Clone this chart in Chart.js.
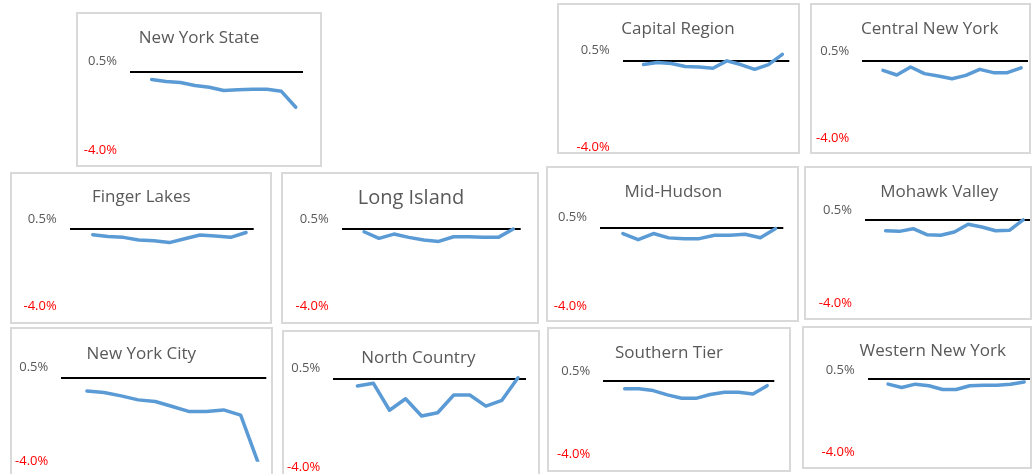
<!DOCTYPE html>
<html><head><meta charset="utf-8">
<script src="https://cdn.jsdelivr.net/npm/chart.js@4.4.1/dist/chart.umd.min.js"></script>
<style>
html,body{margin:0;padding:0;background:#fff;width:1032px;height:474px;overflow:hidden;position:relative}
.box{position:absolute;border:2px solid #d9d9d9;box-sizing:border-box;pointer-events:none}
canvas{position:absolute}
</style></head><body>
<script>
// ---- data ----
const categories = ['2009','2010','2011','2012','2013','2014','2015','2016','2017','2018','2019','2020'];
const newYorkState    = [null, -0.41, -0.51, -0.56, -0.71, -0.80, -0.97, -0.93, -0.90, -0.90, -1.01, -1.82];
const capitalRegion   = [null, -0.17, -0.08, -0.12, -0.26, -0.28, -0.34,  0.00, -0.17, -0.39, -0.17,  0.30];
const centralNewYork  = [null, -0.48, -0.72, -0.31, -0.65, -0.77, -0.91, -0.74, -0.43, -0.60, -0.60, -0.35];
const fingerLakes     = [null, -0.29, -0.38, -0.43, -0.57, -0.60, -0.70, -0.50, -0.31, -0.36, -0.43, -0.18];
const longIsland      = [null, -0.14, -0.48, -0.26, -0.43, -0.57, -0.64, -0.40, -0.40, -0.43, -0.43,  0.00];
const midHudson       = [null, -0.30, -0.61, -0.30, -0.52, -0.56, -0.56, -0.39, -0.39, -0.34, -0.51, -0.05];
const mohawkValley    = [null, -0.50, -0.53, -0.40, -0.69, -0.72, -0.56, -0.19, -0.32, -0.50, -0.48,  0.02];
const newYorkCity     = [null, -0.61, -0.69, -0.85, -1.04, -1.12, -1.36, -1.60, -1.60, -1.52, -1.77, -4.00];
const northCountry    = [null, -0.30, -0.18, -1.40, -0.88, -1.66, -1.51, -0.71, -0.71, -1.21, -0.95,  0.07];
const southernTier    = [null, -0.43, -0.43, -0.53, -0.76, -0.95, -0.95, -0.74, -0.62, -0.62, -0.71, -0.26];
const westernNewYork  = [null, -0.27, -0.45, -0.27, -0.36, -0.56, -0.56, -0.36, -0.33, -0.33, -0.27, -0.15];
const tickValues = [-4.0, 0, 0.5];
const tickLabels = ['-4.0%', '', '0.5%'];

// ---- layout (page coordinates) ----
const panels = [
 {name:'New York State',   data:newYorkState,   box:[76,12,246,155],  title:[199,38,17],    plot:[130,303,61.7,150]},
 {name:'Capital Region',   data:capitalRegion,  box:[557,3,243,151],  title:[678,28.7,17],  plot:[622.7,789.3,50,147.7]},
 {name:'Central New York', data:centralNewYork, box:[810,3,221,151],  title:[929.7,28.7,17],plot:[862.3,1028,51.3,138.7]},
 {name:'Finger Lakes',     data:fingerLakes,    box:[10,172,262,152], title:[141.3,196.7,17],plot:[69.7,253.7,219.3,306.7]},
 {name:'Long Island',      data:longIsland,     box:[281,172,258,152],title:[411,198.3,20], plot:[341.7,520.7,219.3,306.7]},
 {name:'Mid-Hudson',       data:midHudson,      box:[546,166,253,156],title:[673.3,191.7,17],plot:[600,783.3,217.7,306.7]},
 {name:'Mohawk Valley',    data:mohawkValley,   box:[804,166,228,154],title:[939.3,191.7,17],plot:[865,1030,210,303.3]},
 {name:'New York City',    data:newYorkCity,    box:[10,327,263,152], title:[141.3,354.3,17],plot:[61.3,266.3,367.7,461.7]},
 {name:'North Country',    data:northCountry,   box:[282,330,258,152],title:[418.3,357.7,17],plot:[333.3,526,368.3,467.7]},
 {name:'Southern Tier',    data:southernTier,   box:[547,327,244,145],title:[669,353.3,17], plot:[603.3,774.3,371.7,454.3]},
 {name:'Western New York', data:westernNewYork, box:[802,326,230,143],title:[932.7,351,17], plot:[867.7,1031,370,452.7]}
];

panels.forEach(p => {
  const [bx, by, bw, bh] = p.box;
  const [tcx, tcy, ts] = p.title;
  const [pl, pr, pt, pb] = p.plot;
  const tcxL = tcx - bx;
  const cw = Math.ceil(Math.max(bw, 2 * tcxL));
  const ch = bh + 10;
  const cv = document.createElement('canvas');
  cv.width = cw; cv.height = ch;
  cv.style.left = bx + 'px'; cv.style.top = by + 'px';
  cv.style.width = cw + 'px'; cv.style.height = ch + 'px';
  document.body.appendChild(cv);
  const bd = document.createElement('div');
  bd.className = 'box';
  bd.style.left = bx + 'px'; bd.style.top = by + 'px';
  bd.style.width = bw + 'px'; bd.style.height = bh + 'px';
  document.body.appendChild(bd);

  const lh = 1.2 * ts;
  const padR = cw - 2 * tcxL;          // title box centred on tcx
  const axisW = pl - bx;               // left axis fills up to plot left
  const rightW = 2 * tcxL - (pr - bx); // spacer axis on the right
  const padB = ch - (pb - by);
  const tPadTop = (tcy - by) - lh / 2;
  const tPadBot = (pt - tcy) - lh / 2;

  new Chart(cv, {
    type: 'line',
    data: {labels: categories, datasets: [{data: p.data, borderColor: '#5b9bd5', borderWidth: 3.5,
      pointRadius: 0, pointHoverRadius: 0, tension: 0, fill: false, borderCapStyle: 'round', borderJoinStyle: 'round'}]},
    options: {
      responsive: false, animation: false, devicePixelRatio: 1,
      layout: {padding: {left: 0, right: padR, top: 0, bottom: padB}},
      plugins: {
        legend: {display: false}, tooltip: {enabled: false},
        title: {display: true, text: p.name, color: '#595959',
          font: {family: 'Open Sans', size: ts, weight: 'normal', lineHeight: 1.2},
          padding: {top: tPadTop, bottom: tPadBot}}
      },
      scales: {
        x: {display: false, offset: true},
        y: {
          position: 'left', min: -4.0, max: 0.5,
          afterBuildTicks: s => { s.ticks = tickValues.map(v => ({value: v})); },
          afterFit: s => { s.width = axisW; s.paddingTop = 0; s.paddingBottom = 0; },
          border: {display: false},
          grid: {drawTicks: false, lineWidth: 2,
            color: c => (c.tick && c.tick.value === 0) ? '#000000' : 'rgba(0,0,0,0)'},
          ticks: {padding: 13,
            color: c => (c.tick && c.tick.value < 0) ? '#ff0000' : '#595959',
            font: {family: 'Open Sans', size: 13},
            callback: (v, i) => tickLabels[i]}
        },
        yr: {
          position: 'right', min: -4.0, max: 0.5,
          afterFit: s => { s.width = rightW; s.paddingTop = 0; s.paddingBottom = 0; },
          border: {display: false}, grid: {display: false, drawTicks: false},
          ticks: {display: false}
        }
      }
    }
  });
});
</script>
</body></html>
